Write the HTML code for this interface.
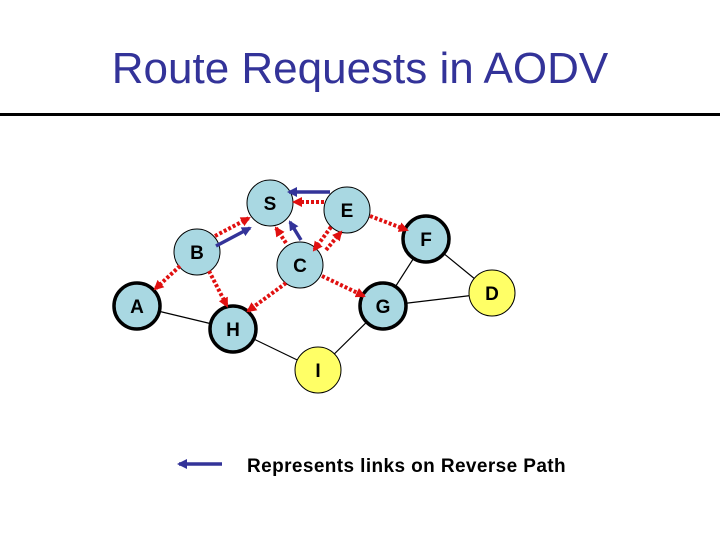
<!DOCTYPE html>
<html><head><meta charset="utf-8"><style>
html,body{margin:0;padding:0;background:#fff;}
svg{display:block;}
</style></head><body>
<svg width="720" height="540" viewBox="0 0 720 540" xmlns="http://www.w3.org/2000/svg">
<defs>
<marker id="rh" markerWidth="10" markerHeight="10" refX="8" refY="5" orient="auto" markerUnits="userSpaceOnUse" viewBox="0 0 10 10"><path d="M0,0 L10,5 L0,10 z" fill="#e01010"/></marker>
<marker id="bh" markerWidth="10" markerHeight="10" refX="8" refY="5" orient="auto" markerUnits="userSpaceOnUse" viewBox="0 0 10 10"><path d="M0,0 L10,5 L0,10 z" fill="#333399"/></marker>
</defs>
<rect width="720" height="540" fill="#fff"/>
<text x="360" y="83" text-anchor="middle" font-family="Liberation Sans, sans-serif" font-size="44" fill="#333399">Route Requests in AODV</text>
<rect x="0" y="113" width="720" height="3" fill="#000"/>

<g stroke="#000" stroke-width="1.2">
<line x1="137" y1="306" x2="233" y2="329"/>
<line x1="233" y1="329" x2="318" y2="370"/>
<line x1="318" y1="370" x2="383" y2="306"/>
<line x1="383" y1="306" x2="426" y2="239"/>
<line x1="426" y1="239" x2="492" y2="293"/>
<line x1="383" y1="306" x2="492" y2="293"/>
</g>

<g fill="#a9d8e2" stroke="#000">
<circle cx="270" cy="203" r="23" stroke-width="1"/>
<circle cx="347" cy="210" r="23" stroke-width="1"/>
<circle cx="197" cy="252" r="23" stroke-width="1"/>
<circle cx="300" cy="265" r="23" stroke-width="1"/>
<circle cx="426" cy="239" r="23" stroke-width="3.5"/>
<circle cx="137" cy="306" r="23" stroke-width="3.5"/>
<circle cx="233" cy="329" r="23" stroke-width="3.5"/>
<circle cx="383" cy="306" r="23" stroke-width="3.5"/>
</g>
<circle cx="318" cy="370" r="23" fill="#ffff66" stroke="#000" stroke-width="1"/>
<circle cx="492" cy="293" r="23" fill="#ffff66" stroke="#000" stroke-width="1"/>

<g stroke="#e01010" stroke-width="4" stroke-dasharray="3,2" fill="none" marker-end="url(#rh)">
<line x1="215" y1="236" x2="249" y2="218"/>
<line x1="324" y1="202" x2="294" y2="202"/>
<line x1="286" y1="243" x2="276" y2="228"/>
<line x1="331" y1="227" x2="314" y2="250"/>
<line x1="326" y1="250" x2="341" y2="232"/>
<line x1="370" y1="216" x2="407" y2="230"/>
<line x1="180" y1="266" x2="155" y2="289"/>
<line x1="209" y1="271" x2="227" y2="306"/>
<line x1="286" y1="283" x2="248" y2="311"/>
<line x1="322" y1="276" x2="364" y2="296"/>
</g>

<g stroke="#333399" stroke-width="3.5" fill="none" marker-end="url(#bh)">
<line x1="330" y1="192" x2="289" y2="192"/>
<line x1="216" y1="246" x2="250" y2="228"/>
<line x1="301" y1="240" x2="290" y2="222"/>
<line x1="222" y1="464" x2="179" y2="464"/>
</g>

<g font-family="Liberation Sans, sans-serif" font-size="19" font-weight="bold" fill="#000" text-anchor="middle">
<text x="270" y="210">S</text>
<text x="347" y="217">E</text>
<text x="197" y="259">B</text>
<text x="300" y="272">C</text>
<text x="426" y="246">F</text>
<text x="137" y="313">A</text>
<text x="233" y="336">H</text>
<text x="383" y="313">G</text>
<text x="318" y="377">I</text>
<text x="492" y="300">D</text>
</g>
<text x="247" y="472" font-family="Liberation Sans, sans-serif" font-size="19" font-weight="bold" letter-spacing="0.4" fill="#000">Represents links on Reverse Path</text>
</svg>
</body></html>
